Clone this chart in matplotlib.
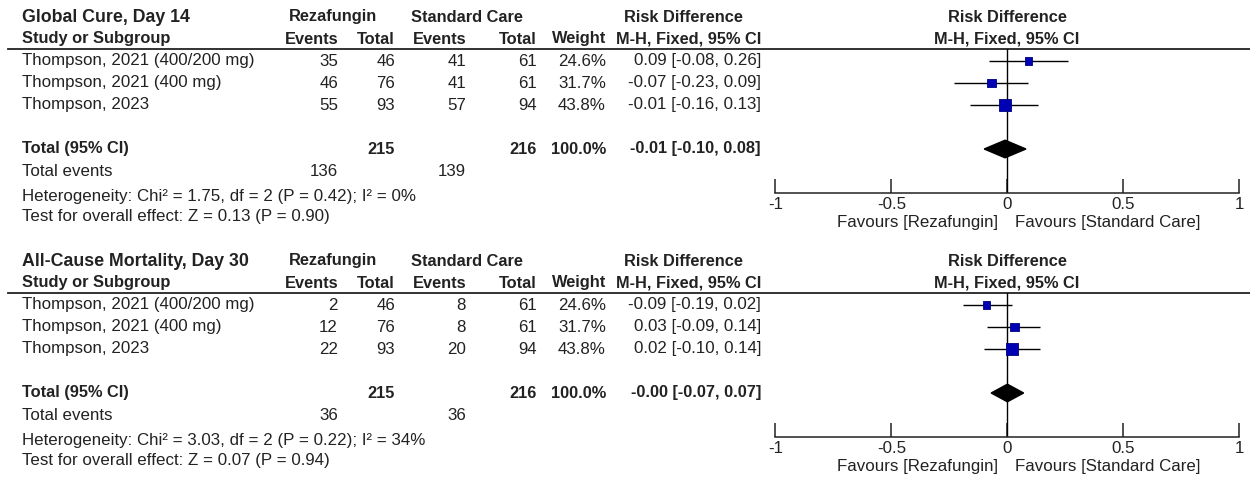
import numpy as np
import matplotlib
matplotlib.use("Agg")
import matplotlib.pyplot as plt

plt.rcParams['font.family'] = ['Liberation Sans', 'DejaVu Sans']

# ---- data ----
studies = ["Thompson, 2021 (400/200 mg)", "Thompson, 2021 (400 mg)", "Thompson, 2023"]
rez_total = [46, 76, 93]
sc_total = [61, 61, 94]
weights = [24.6, 31.7, 43.8]

cure_rez_events = [35, 46, 55]
cure_sc_events = [41, 41, 57]
cure_rd = [0.09, -0.07, -0.01]
cure_lo = [-0.08, -0.23, -0.16]
cure_hi = [0.26, 0.09, 0.13]
cure_tot = [-0.01, -0.10, 0.08]
cure_events_tot = [136, 139]
cure_het = "Heterogeneity: Chi\u00b2 = 1.75, df = 2 (P = 0.42); I\u00b2 = 0%"
cure_z = "Test for overall effect: Z = 0.13 (P = 0.90)"

mort_rez_events = [2, 12, 22]
mort_sc_events = [8, 8, 20]
mort_rd = [-0.09, 0.03, 0.02]
mort_lo = [-0.19, -0.09, -0.10]
mort_hi = [0.02, 0.14, 0.14]
mort_tot = [-0.00, -0.07, 0.07]
mort_tot_txt = "-0.00 [-0.07, 0.07]"
mort_events_tot = [36, 36]
mort_het = "Heterogeneity: Chi\u00b2 = 3.03, df = 2 (P = 0.22); I\u00b2 = 34%"
mort_z = "Test for overall effect: Z = 0.07 (P = 0.94)"

rez_sum = 215
sc_sum = 216
xticks = [-1, -0.5, 0, 0.5, 1]
xticklabels = ["-1", "-0.5", "0", "0.5", "1"]

panels = [
    ("Global Cure, Day 14", cure_rez_events, cure_sc_events, cure_rd, cure_lo, cure_hi,
     cure_tot, "-0.01 [-0.10, 0.08]", cure_events_tot, cure_het, cure_z),
    ("All-Cause Mortality, Day 30", mort_rez_events, mort_sc_events, mort_rd, mort_lo, mort_hi,
     mort_tot, mort_tot_txt, mort_events_tot, mort_het, mort_z),
]

W, H = 1250, 482
fig = plt.figure(figsize=(W / 100, H / 100), dpi=100)
ax0 = fig.add_axes([0, 0, 1, 1])
ax0.set_xlim(0, W)
ax0.set_ylim(H, 0)
ax0.axis('off')

tc = '#222222'
fs = 12.2
fb = 11.8
blue = '#0000b4'

def rdtxt(v, lo, hi):
    return "%.2f [%.2f, %.2f]" % (v, lo, hi)

x_study = 22
x_re, x_rt = 338, 395
x_se, x_st = 466, 537
x_w, x_rd = 606, 761
x_m1, x_p1 = 775.5, 1239.3

for p, (title, re_ev, sc_ev, rd, lo, hi, tot, tot_txt, evtot, het, zt) in enumerate(panels):
    off = p * 244
    y_title, y_sub, y_line = 17 + off, 39 + off, 49 + off
    rows_y = [61 + off, 83 + off, 105 + off]
    y_tot, y_ev, y_het, y_z = 149 + off, 172 + off, 196 + off, 217 + off
    y_axis = 193 + off

    ax0.text(x_study, y_title, title, fontsize=12.8, fontweight='bold', color=tc, va='center')
    ax0.text(x_study, y_sub, "Study or Subgroup", fontsize=fb, fontweight='bold', color=tc, va='center')
    ax0.text(333, y_title, "Rezafungin", fontsize=fb, fontweight='bold', color=tc, va='center', ha='center')
    ax0.text(467, y_title, "Standard Care", fontsize=fb, fontweight='bold', color=tc, va='center', ha='center')
    ax0.text(683, y_title, "Risk Difference", fontsize=fb, fontweight='bold', color=tc, va='center', ha='center')
    ax0.text(1007, y_title, "Risk Difference", fontsize=fb, fontweight='bold', color=tc, va='center', ha='center')
    ax0.text(1007, y_sub, "M-H, Fixed, 95% CI", fontsize=fb, fontweight='bold', color=tc, va='center', ha='center')
    for x, s in [(x_re, "Events"), (x_rt, "Total"), (x_se, "Events"), (x_st, "Total"),
                 (x_w, "Weight"), (x_rd, "M-H, Fixed, 95% CI")]:
        ax0.text(x, y_sub, s, fontsize=fb, fontweight='bold', color=tc, va='center', ha='right')
    ax0.plot([8, W], [y_line, y_line], color='#222222', lw=1.3)

    for i, y in enumerate(rows_y):
        ax0.text(x_study, y, studies[i], fontsize=fs, color=tc, va='center')
        ax0.text(x_re, y, str(re_ev[i]), fontsize=fs, color=tc, va='center', ha='right')
        ax0.text(x_rt, y, str(rez_total[i]), fontsize=fs, color=tc, va='center', ha='right')
        ax0.text(x_se, y, str(sc_ev[i]), fontsize=fs, color=tc, va='center', ha='right')
        ax0.text(x_st, y, str(sc_total[i]), fontsize=fs, color=tc, va='center', ha='right')
        ax0.text(x_w, y, "%.1f%%" % weights[i], fontsize=fs, color=tc, va='center', ha='right')
        ax0.text(x_rd, y, rdtxt(rd[i], lo[i], hi[i]), fontsize=fs, color=tc, va='center', ha='right')

    ax0.text(x_study, y_tot, "Total (95% CI)", fontsize=fb, fontweight='bold', color=tc, va='center')
    ax0.text(x_rt, y_tot, str(rez_sum), fontsize=fb, fontweight='bold', color=tc, va='center', ha='right')
    ax0.text(x_st, y_tot, str(sc_sum), fontsize=fb, fontweight='bold', color=tc, va='center', ha='right')
    ax0.text(x_w, y_tot, "100.0%", fontsize=fb, fontweight='bold', color=tc, va='center', ha='right')
    ax0.text(x_rd, y_tot, tot_txt, fontsize=fb, fontweight='bold', color=tc, va='center', ha='right')
    ax0.text(x_study, y_ev, "Total events", fontsize=fs, color=tc, va='center')
    ax0.text(x_re, y_ev, str(evtot[0]), fontsize=fs, color=tc, va='center', ha='right')
    ax0.text(x_se, y_ev, str(evtot[1]), fontsize=fs, color=tc, va='center', ha='right')
    ax0.text(x_study, y_het, het, fontsize=fs, color=tc, va='center')
    ax0.text(x_study, y_z, zt, fontsize=fs, color=tc, va='center')

    ax0.text(998, y_axis + 29, "Favours [Rezafungin]", fontsize=fs, color=tc, va='center', ha='right')
    ax0.text(1015, y_axis + 29, "Favours [Standard Care]", fontsize=fs, color=tc, va='center', ha='left')

    # forest plot axes: rows spaced 22 px, index 0..2 studies, 4 total, 6 axis line
    left = x_m1 / W
    width = (x_p1 - x_m1) / W
    bottom = 1 - y_axis / H
    height = (y_axis - y_line) / H
    ax = fig.add_axes([left, bottom, width, height])
    ax.set_xlim(-1, 1)
    ax.set_ylim(6, -0.545)
    ax.patch.set_alpha(0)
    for s in ['top', 'left', 'right']:
        ax.spines[s].set_visible(False)
    ax.spines['bottom'].set_linewidth(1.1)
    ax.spines['bottom'].set_color('#222222')
    ax.set_yticks([])
    ax.set_xticks(xticks)
    ax.set_xticklabels(xticklabels)
    ax.tick_params(axis='x', direction='in', length=10, width=1.1, pad=3,
                   labelsize=fs, labelcolor=tc, color='#222222')
    ax.axvline(0, color='black', lw=1)

    idx = np.arange(len(rd))
    ax.hlines(idx, lo, hi, color='black', lw=1)
    sides = [(2.5 + 0.2 * w) * 0.72 for w in weights]
    ax.scatter(rd, idx, marker='s', s=np.array(sides) ** 2, color=blue,
               edgecolor='#00007a', linewidth=0.6, zorder=3)
    ax.fill([tot[1], tot[0], tot[2], tot[0]], [4, 3.6, 4, 4.4], color='black', zorder=3)

fig.savefig("out.png", dpi=100)
